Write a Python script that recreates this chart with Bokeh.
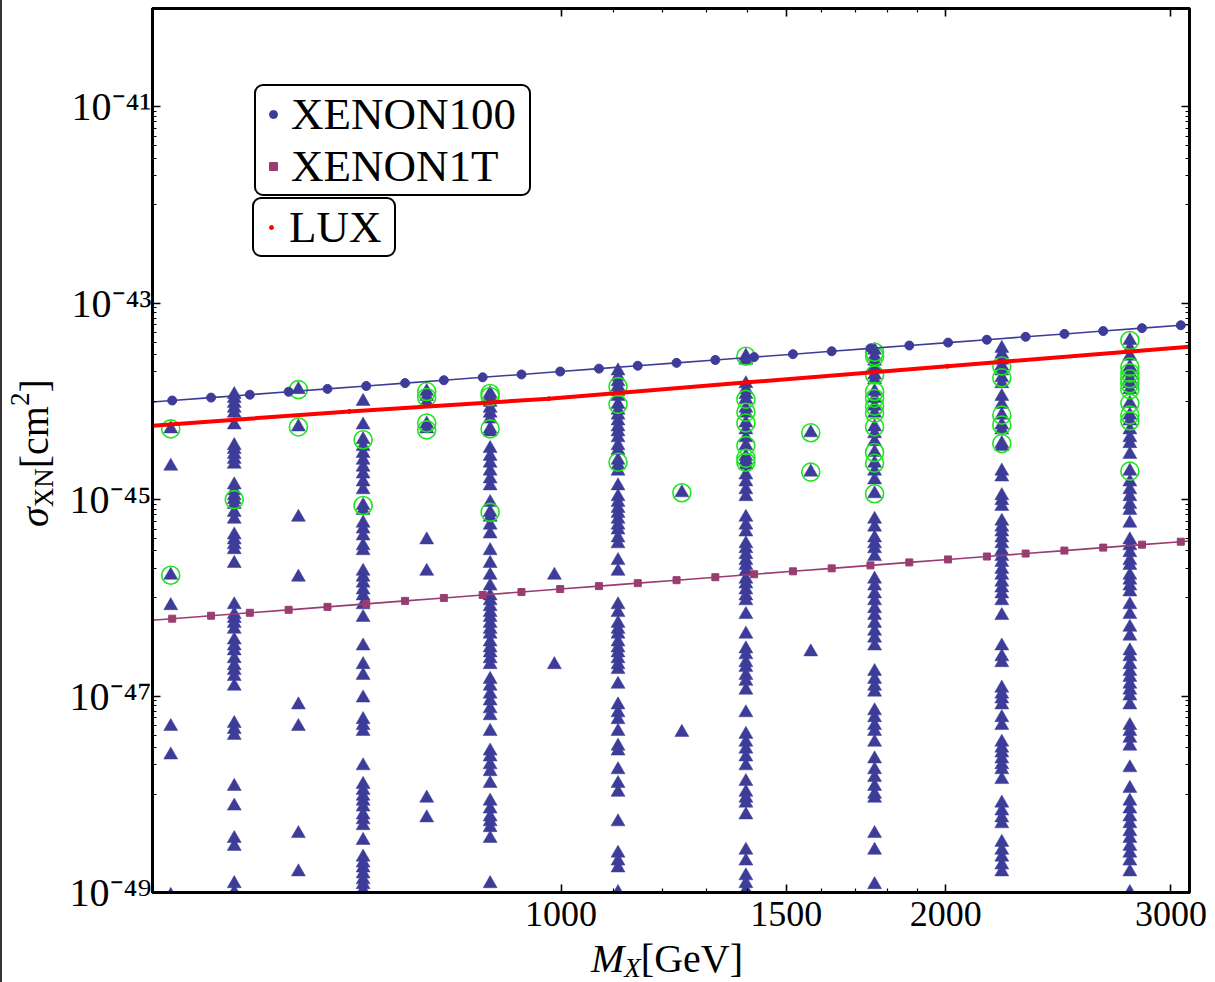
import math
from bokeh.plotting import figure
from bokeh.layouts import row, column
from bokeh.models import (Range1d, FixedTicker, LogAxis, Legend, LegendItem, Div)
from bokeh.embed import file_html
from bokeh.resources import INLINE

# ---------------------------------------------------------------- data
# direct-detection limits (mass in GeV, cross-section in cm^2)
xenon100_mass = [462.8, 496.3, 532.3, 570.8, 612.1, 656.5, 704.0, 755.0, 809.6, 868.3,
                 931.1, 998.4, 1070.6, 1148.1, 1231.2, 1320.3, 1415.9, 1518.4, 1628.2,
                 1746.0, 1872.5, 2007.9, 2153.3, 2309.1, 2476.2, 2655.4, 2847.6, 3053.6, 3275.0]
xenon100_sigma = [9.54e-45, 1.021e-44, 1.093e-44, 1.169e-44, 1.252e-44, 1.340e-44, 1.434e-44,
                  1.535e-44, 1.643e-44, 1.758e-44, 1.881e-44, 2.013e-44, 2.155e-44, 2.306e-44,
                  2.467e-44, 2.640e-44, 2.826e-44, 3.024e-44, 3.236e-44, 3.463e-44, 3.706e-44,
                  3.966e-44, 4.244e-44, 4.543e-44, 4.862e-44, 5.203e-44, 5.568e-44, 5.959e-44,
                  6.38e-44]
xenon1t_mass = xenon100_mass
xenon1t_sigma = [5.722e-47, 6.135e-47, 6.574e-47, 7.046e-47, 7.549e-47, 8.092e-47, 8.678e-47,
                 9.305e-47, 9.973e-47, 1.069e-46, 1.146e-46, 1.228e-46, 1.316e-46, 1.411e-46,
                 1.512e-46, 1.621e-46, 1.738e-46, 1.862e-46, 1.996e-46, 2.140e-46, 2.294e-46,
                 2.459e-46, 2.635e-46, 2.825e-46, 3.027e-46, 3.245e-46, 3.478e-46, 3.728e-46,
                 3.997e-46]
lux_mass = [470, 479, 683, 978, 1400, 2005, 3102, 3200]
lux_sigma = [5.54e-45, 5.65e-45, 7.91e-45, 1.066e-44, 1.563e-44, 2.275e-44, 3.597e-44, 3.71e-44]

# scan points: log10(sigma / cm^2) for each mass value of the scan
scan_495 = [-44.28, -44.66, -45.77, -46.08, -47.31, -47.60, -49.03]
scan_555 = [-43.93, -43.97, -44.02, -44.07, -44.12, -44.24, -44.45, -44.49, -44.54, -44.59,
            -44.64, -44.85, -44.91, -44.96, -45.00, -45.05, -45.13, -45.20, -45.36, -45.41,
            -45.46, -45.51, -45.65, -46.07, -46.17, -46.21, -46.26, -46.32, -46.43, -46.49,
            -46.54, -46.62, -46.69, -46.74, -46.80, -46.90, -47.28, -47.34, -47.40, -47.92,
            -48.12, -48.45, -48.53, -48.91, -49.00]
scan_623 = [-43.88, -44.26, -45.18, -45.79, -47.09, -47.31, -48.40, -48.79]
scan_700 = [-44.00, -44.24, -44.39, -44.46, -44.53, -44.60, -44.67, -44.74, -44.82, -44.90,
            -45.06, -45.11, -45.24, -45.30, -45.37, -45.47, -45.52, -45.73, -45.79, -45.85,
            -45.92, -45.98, -46.07, -46.20, -46.49, -46.68, -46.79, -47.02, -47.24, -47.30,
            -47.36, -47.71, -47.90, -47.96, -48.02, -48.07, -48.13, -48.21, -48.26, -48.32,
            -48.47, -48.64, -48.70, -48.75, -48.81, -48.87, -48.92, -48.98]
scan_785 = [-43.90, -43.95, -44.01, -44.23, -44.28, -45.41, -45.73, -48.04, -48.24]
scan_880 = [-43.92, -43.95, -44.01, -44.07, -44.12, -44.18, -44.28, -44.31, -44.48, -44.56,
            -44.63, -44.71, -44.79, -44.86, -45.03, -45.13, -45.18, -45.26, -45.35, -45.52,
            -45.65, -45.77, -45.88, -45.98, -46.03, -46.09, -46.15, -46.20, -46.26, -46.32,
            -46.37, -46.45, -46.51, -46.56, -46.62, -46.68, -46.83, -46.90, -46.98, -47.05,
            -47.13, -47.20, -47.36, -47.56, -47.62, -47.70, -47.77, -47.89, -48.07, -48.15,
            -48.23, -48.28, -48.34, -48.45, -48.91]
scan_988 = [-45.77, -46.68]
scan_1108 = [-43.69, -43.75, -43.80, -43.85, -43.90, -43.95, -44.03, -44.09, -44.14, -44.20,
             -44.26, -44.31, -44.37, -44.45, -44.50, -44.60, -44.65, -44.71, -44.86, -44.97,
             -45.03, -45.09, -45.14, -45.20, -45.26, -45.31, -45.39, -45.45, -45.62, -45.73,
             -46.07, -46.15, -46.26, -46.32, -46.37, -46.45, -46.51, -46.56, -46.62, -46.68,
             -46.73, -46.88, -47.09, -47.17, -47.24, -47.36, -47.51, -47.56, -47.75, -47.89,
             -47.98, -48.28, -48.60, -48.68, -48.75, -49.00]
scan_1243 = [-44.93, -47.37]
scan_1395 = [-43.54, -43.58, -43.82, -43.88, -43.93, -43.98, -44.07, -44.12, -44.22, -44.29,
             -44.37, -44.45, -44.56, -44.60, -44.65, -44.75, -44.82, -44.90, -44.97, -45.18,
             -45.26, -45.33, -45.45, -45.50, -45.56, -45.62, -45.67, -45.73, -45.81, -45.86,
             -45.92, -45.98, -46.03, -46.17, -46.37, -46.52, -46.58, -46.66, -46.71, -46.79,
             -46.85, -46.94, -47.17, -47.39, -47.47, -47.54, -47.62, -47.71, -47.87, -47.98,
             -48.04, -48.09, -48.21, -48.57, -48.68, -48.83, -48.91, -48.98]
scan_1568 = [-44.32, -44.72, -46.55]
scan_1759 = [-43.48, -43.54, -43.59, -43.65, -43.73, -43.78, -43.90, -43.97, -44.05, -44.12,
             -44.26, -44.33, -44.41, -44.52, -44.63, -44.71, -44.80, -44.94, -45.20, -45.28,
             -45.39, -45.45, -45.50, -45.58, -45.81, -45.88, -45.96, -46.03, -46.11, -46.18,
             -46.26, -46.34, -46.41, -46.49, -46.75, -46.83, -46.90, -46.96, -47.15, -47.22,
             -47.30, -47.36, -47.47, -47.64, -47.75, -47.83, -47.92, -48.00, -48.04, -48.40,
             -48.57, -48.92]
scan_2212 = [-43.46, -43.52, -43.58, -43.64, -43.69, -43.76, -43.82, -43.95, -44.03, -44.14,
             -44.24, -44.29, -44.43, -44.46, -44.71, -44.77, -44.96, -45.01, -45.07, -45.22,
             -45.28, -45.33, -45.39, -45.45, -45.52, -45.58, -45.64, -45.71, -45.77, -45.84,
             -45.90, -45.96, -46.03, -46.18, -46.49, -46.60, -46.66, -46.92, -46.98, -47.03,
             -47.09, -47.22, -47.30, -47.47, -47.53, -47.58, -47.64, -47.70, -47.75, -47.85,
             -48.09, -48.17, -48.24, -48.30, -48.49, -48.57, -48.64, -48.72, -48.79]
scan_2786 = [-43.38, -43.46, -43.54, -43.65, -43.71, -43.77, -43.82, -43.88, -44.02, -44.14,
             -44.20, -44.29, -44.37, -44.43, -44.54, -44.71, -44.82, -44.90, -44.97, -45.05,
             -45.11, -45.24, -45.41, -45.47, -45.54, -45.62, -45.67, -45.77, -45.82, -45.88,
             -45.94, -46.07, -46.17, -46.30, -46.39, -46.54, -46.60, -46.68, -46.75, -46.81,
             -46.88, -46.94, -47.00, -47.09, -47.30, -47.36, -47.43, -47.51, -47.73, -47.94,
             -48.07, -48.15, -48.23, -48.30, -48.38, -48.45, -48.53, -48.60, -48.68, -48.79,
             -49.00]

# scan points that are highlighted (log10 sigma)
marked_495 = [-44.28, -45.77]
marked_555 = [-45.00]
marked_623 = [-43.88, -44.26]
marked_700 = [-44.39, -45.06]
marked_785 = [-43.90, -43.96, -44.22, -44.29]
marked_880 = [-43.92, -43.95, -44.28, -45.13]
marked_1108 = [-43.85, -44.03, -44.62]
marked_1243 = [-44.93]
marked_1395 = [-43.54, -43.98, -44.11, -44.22, -44.45, -44.58, -44.62]
marked_1568 = [-44.32, -44.72]
marked_1759 = [-43.50, -43.54, -43.73, -43.90, -43.97, -44.05, -44.12, -44.26, -44.52,
               -44.63, -44.94]
marked_2212 = [-43.64, -43.76, -44.14, -44.24, -44.43]
marked_2786 = [-43.38, -43.65, -43.71, -43.77, -43.82, -43.88, -44.02, -44.14, -44.20, -44.71]

scan_columns = [(495, scan_495), (555, scan_555), (623, scan_623), (700, scan_700),
                (785, scan_785), (880, scan_880), (988, scan_988), (1108, scan_1108),
                (1243, scan_1243), (1395, scan_1395), (1568, scan_1568), (1759, scan_1759),
                (2212, scan_2212), (2786, scan_2786)]
marked_columns = [(495, marked_495), (555, marked_555), (623, marked_623), (700, marked_700),
                  (785, marked_785), (880, marked_880), (1108, marked_1108),
                  (1243, marked_1243), (1395, marked_1395), (1568, marked_1568),
                  (1759, marked_1759), (2212, marked_2212), (2786, marked_2786)]

y_major = [1e-49, 1e-47, 1e-45, 1e-43, 1e-41]
y_major_labels = ["10⁻⁴⁹", "10⁻⁴⁷", "10⁻⁴⁵", "10⁻⁴³", "10⁻⁴¹"]
x_major = [1000, 1500, 2000, 3000]
x_major_labels = ["1000", "1500", "2000", "3000"]
x_minor = [1100, 1200, 1300, 1400, 1600, 1700, 1800, 1900]

# ---------------------------------------------------------------- styles
BLUE = "#3d3d99"
PURPLE = "#993d71"
RED = "#ff0000"
GREEN = "#1ee61e"
SERIF = "Liberation Serif"

PAGE_W, PAGE_H = 1215, 982
FIG_X = 70                       # page x where the figure starts
YLAB_W = 66                      # strip holding the vertical axis title (layout adds 4px)
XLAB_H = 40                      # strip holding the horizontal axis title
FRAME_LEFT, FRAME_TOP, FRAME_RIGHT, FRAME_BOTTOM = 153, 8, 1193, 892
FIG_W, FIG_H = PAGE_W - FIG_X, PAGE_H - XLAB_H


def flatten(columns):
    xs, ys = [], []
    for mass, logs in columns:
        for v in logs:
            xs.append(mass)
            ys.append(10.0 ** v)
    return xs, ys


scan_x, scan_y = flatten(scan_columns)
mark_x, mark_y = flatten(marked_columns)

p = figure(width=FIG_W, height=FIG_H, x_axis_type="log", y_axis_type="log",
           x_range=Range1d(479, 3102), y_range=Range1d(1e-49, 1e-40),
           output_backend="svg", toolbar_location=None,
           min_border_left=FRAME_LEFT - FIG_X, min_border_right=PAGE_W - FRAME_RIGHT,
           min_border_top=FRAME_TOP, min_border_bottom=FIG_H - FRAME_BOTTOM)
p.background_fill_color = "white"
p.border_fill_color = "white"
p.grid.visible = False
p.outline_line_color = "black"
p.outline_line_width = 3

# minor ticks: the nine values below every labelled decade
y_minor = []
for t in y_major:
    e = round(math.log10(t)) - 1
    y_minor += [m * 10.0 ** e for m in range(1, 10)]


def style_axis(ax, ticks, minor, size, labels, standoff=9):
    ax.ticker = FixedTicker(ticks=ticks, minor_ticks=minor)
    ax.axis_line_color = "black"
    ax.axis_line_width = 3
    ax.major_tick_in = 8
    ax.major_tick_out = 0
    ax.minor_tick_in = 4
    ax.minor_tick_out = 0
    ax.major_tick_line_color = "black"
    ax.minor_tick_line_color = "black"
    ax.major_tick_line_width = 1.6
    ax.minor_tick_line_width = 1.2
    ax.axis_label = None
    if labels is None:
        # mirrored frame axis: ticks only
        ax.major_label_overrides = {t: "" for t in ticks}
        ax.major_label_text_font_size = "2px"
        ax.major_label_text_color = None
        ax.major_label_standoff = 0
    else:
        ax.major_label_overrides = dict(zip(ticks, labels))
        ax.major_label_text_font = SERIF
        ax.major_label_text_font_size = size
        ax.major_label_text_color = "black"
        ax.major_label_standoff = standoff


style_axis(p.xaxis[0], x_major, x_minor, "36px", x_major_labels, standoff=9)
style_axis(p.yaxis[0], y_major, y_minor, "40px", y_major_labels, standoff=1)
top_axis = LogAxis()
right_axis = LogAxis()
p.add_layout(top_axis, "above")
p.add_layout(right_axis, "right")
style_axis(top_axis, x_major, x_minor, None, None)
style_axis(right_axis, y_major, y_minor, None, None)

# scan points and highlighted ones
p.scatter(scan_x, scan_y, marker="triangle", size=14, fill_color=BLUE, line_color=BLUE,
          line_width=0.5)
p.scatter(mark_x, mark_y, marker="circle", size=18, fill_color=None, line_color=GREEN,
          line_width=1.6)

# limit curves
p.line(xenon1t_mass, xenon1t_sigma, line_color=PURPLE, line_width=1.6)
r_x1t = p.scatter(xenon1t_mass, xenon1t_sigma, marker="square", size=7, color=PURPLE)
p.line(xenon100_mass, xenon100_sigma, line_color=BLUE, line_width=1.6)
r_x100 = p.scatter(xenon100_mass, xenon100_sigma, marker="circle", size=9, color=BLUE)
p.line(lux_mass, lux_sigma, line_color=RED, line_width=4)
r_lux = p.scatter(lux_mass, lux_sigma, marker="circle", size=4, color=RED)


def make_legend(items, left, top, label_width, glyph_h):
    lg = Legend(items=items)
    n = len(items)
    lg.label_text_font = SERIF
    lg.label_text_font_size = "45px"
    lg.label_text_color = "black"
    lg.border_line_color = "black"
    lg.border_line_alpha = 1
    lg.border_line_width = 2.5
    lg.background_fill_color = "white"
    lg.background_fill_alpha = 1
    lg.padding = 2
    lg.spacing = 0
    lg.margin = 0
    lg.glyph_width = 30
    lg.glyph_height = glyph_h
    lg.label_standoff = 3
    lg.label_width = label_width
    if "border_radius" in Legend.properties():
        lg.border_radius = 9
    box_h = 4 + 53 * n
    lg.location = (left - FRAME_LEFT, FRAME_BOTTOM - (top + box_h))
    return lg


leg_xenon = make_legend([LegendItem(label="XENON100", renderers=[r_x100]),
                         LegendItem(label="XENON1T", renderers=[r_x1t])],
                        255, 86, 236, 20)
leg_lux = make_legend([LegendItem(label="LUX", renderers=[r_lux])], 253, 200, 103, 10)
p.add_layout(leg_xenon)
p.add_layout(leg_lux)

# ---------------------------------------------------------------- axis titles
FONT_CSS = "font-family:'Liberation Serif',serif;color:#000;"
SUB = "font-size:27px;line-height:0;position:relative;top:5px;"
SUP = "font-size:27px;line-height:0;position:relative;top:-19px;"

y_title_html = (
    f'<div style="position:relative;width:{YLAB_W}px;height:{PAGE_H}px;{FONT_CSS}">'
    f'<div style="position:absolute;left:0;top:0;width:2px;height:{PAGE_H}px;'
    'background:#333333;"></div>'
    '<div style="position:absolute;left:15px;top:527px;transform:rotate(-90deg);'
    'transform-origin:0 0;white-space:nowrap;font-size:40px;line-height:40px;">'
    f'<i>σ</i><span style="{SUB}">XN</span>[cm<span style="{SUP}">2</span>]'
    '</div></div>'
)
x_title_html = (
    f'<div style="position:relative;width:{FIG_W}px;height:{XLAB_H}px;{FONT_CSS}">'
    f'<div style="position:absolute;left:{595 - FIG_X}px;top:-3px;white-space:nowrap;'
    'font-size:40px;line-height:40px;">'
    f'<i>M</i><span style="{SUB}"><i>X</i></span>[GeV]'
    '</div></div>'
)

y_title = Div(text=y_title_html, width=YLAB_W, height=PAGE_H, margin=0)
x_title = Div(text=x_title_html, width=FIG_W, height=XLAB_H, margin=0)

layout = row(y_title, column(p, x_title, spacing=0), spacing=0)

open("out.html", "w").write(file_html(layout, INLINE))
